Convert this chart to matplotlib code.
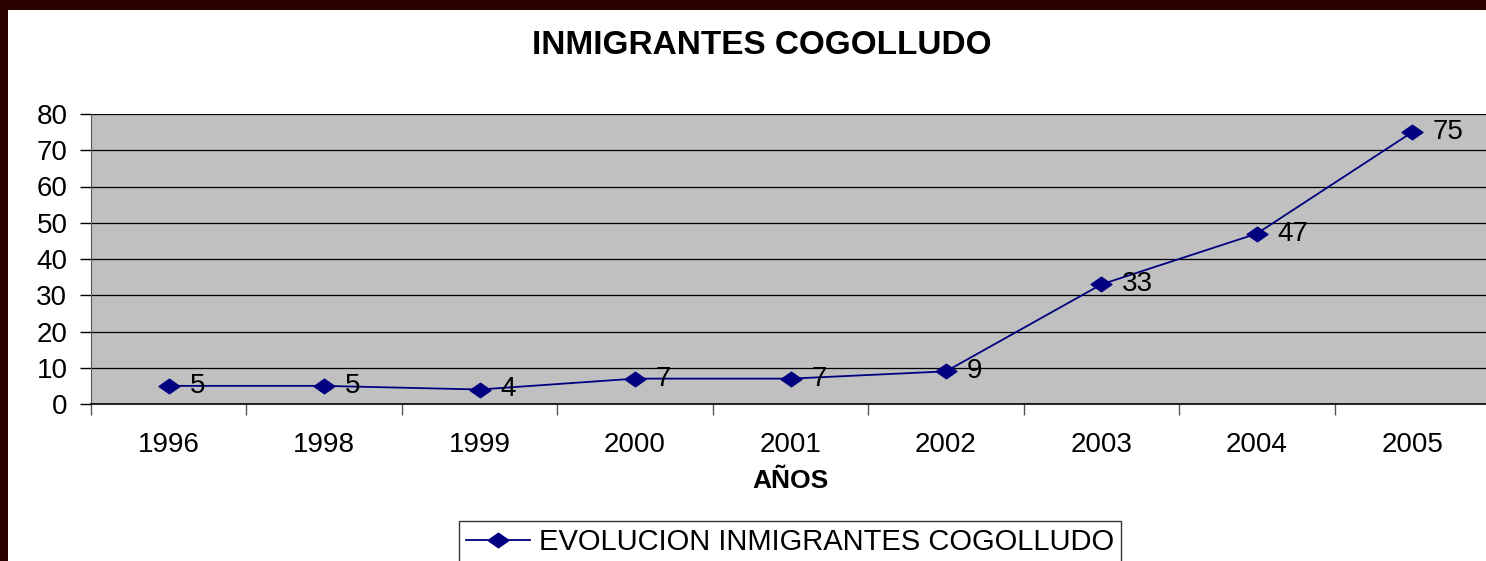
import matplotlib
matplotlib.use("Agg")
import matplotlib.pyplot as plt
from matplotlib.patches import Rectangle
from matplotlib.path import Path

years = ["1996", "1998", "1999", "2000", "2001", "2002", "2003", "2004", "2005"]
values = [5, 5, 4, 7, 7, 9, 33, 47, 75]
title = "INMIGRANTES COGOLLUDO"
xlabel = "AÑOS"
series_name = "EVOLUCION INMIGRANTES COGOLLUDO"

plt.rcParams['font.family'] = ['Liberation Sans', 'DejaVu Sans']

W, H = 1486, 561
fig = plt.figure(figsize=(W / 100, H / 100), dpi=100)
fig.patch.set_facecolor('white')

# dark border (top and left)
fig.patches.append(Rectangle((0, 1 - 10 / H), 1, 10 / H, transform=fig.transFigure,
                             facecolor='#2b0000', edgecolor='none', zorder=-1))
fig.patches.append(Rectangle((0, 0), 8 / W, 1, transform=fig.transFigure,
                             facecolor='#2b0000', edgecolor='none', zorder=-1))

left, right, top, bottom = 91, 1490, 114, 404
ax = fig.add_axes([left / W, 1 - bottom / H, (right - left) / W, (bottom - top) / H])
ax.set_facecolor('#c0c0c0')

diamond = Path([(-1, 0), (0, 0.7), (1, 0), (0, -0.7), (-1, 0)],
               [Path.MOVETO, Path.LINETO, Path.LINETO, Path.LINETO, Path.CLOSEPOLY])

x = list(range(len(years)))
ax.plot(x, values, color='#000080', lw=1.3, marker=diamond, markersize=15,
        markerfacecolor='#000080', markeredgecolor='#000080', label=series_name, zorder=3)
for xi, v in zip(x, values):
    ax.annotate(str(v), (xi, v), xytext=(15, 0), textcoords='offset points',
                ha='left', va='center', fontsize=20, color='black', zorder=4)

ax.set_xlim(-0.5, len(years) - 0.5)
ax.set_ylim(0, 80)
ax.set_yticks(range(0, 81, 10))
ax.tick_params(axis='y', labelsize=20, length=8, width=1, color='black', pad=9)
ax.set_xticks([i - 0.5 for i in range(len(years) + 1)])
ax.set_xticklabels([])
ax.set_xticks(x, minor=True)
ax.set_xticklabels(years, minor=True, fontsize=20)
ax.tick_params(axis='x', which='major', length=8, width=1, color='#555555')
ax.tick_params(axis='x', which='minor', length=0, pad=20)
ax.grid(axis='y', color='black', lw=0.9)
ax.set_axisbelow(True)
for s in ['top', 'right']:
    ax.spines[s].set_visible(False)
ax.spines['left'].set_color('#555555')
ax.spines['bottom'].set_color('black')
ax.spines['bottom'].set_linewidth(1.2)

fig.text(762 / W, 1 - 45 / H, title, ha='center', va='center', fontsize=24, fontweight='bold')
fig.text(790 / W, 1 - 481 / H, xlabel, ha='center', va='center', fontsize=19, fontweight='bold')

leg = fig.legend(loc='upper center', bbox_to_anchor=(790 / W, 1 - 521 / H), fontsize=21,
                 frameon=True, fancybox=False, edgecolor='black', handlelength=2.2,
                 borderpad=0.25, handletextpad=0.3, borderaxespad=0)
leg.get_frame().set_linewidth(1)

fig.savefig('out.png', dpi=100)
